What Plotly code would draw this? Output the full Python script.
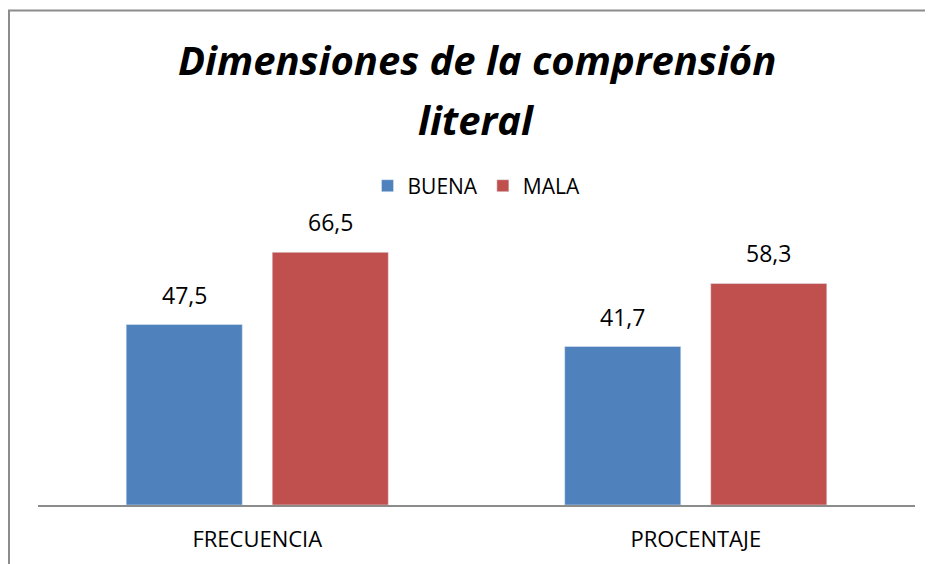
import plotly.graph_objects as go

categories = ["FRECUENCIA", "PROCENTAJE"]
buena = [47.5, 41.7]
mala = [66.5, 58.3]
series_names = ["BUENA", "MALA"]
title_lines = ["Dimensiones de la comprensión", "literal"]
colors = ["#4F81BD", "#C0504D"]

def fmt(v):
    return f"{v:.1f}".replace(".", ",")

FONT = "Open Sans"
BARGAP = 0.334
PLOT_W = 877

fig = go.Figure()
for name, vals, col in zip(series_names, [buena, mala], colors):
    fig.add_trace(go.Bar(x=categories, y=vals, name=name, marker_color=col))

fig.update_layout(
    width=925, height=556,
    margin=dict(l=30, r=18, t=231, b=59),
    paper_bgcolor="white", plot_bgcolor="white",
    barmode="group", bargap=BARGAP, bargroupgap=0.205,
    font=dict(family=FONT, color="black"),
    showlegend=True,
    legend=dict(orientation="h", x=0.5, xanchor="center", y=1.199, yanchor="middle",
                font=dict(size=21, family=FONT, color="black"), bgcolor="rgba(0,0,0,0)"),
    xaxis=dict(showline=True, linecolor="#8C8C8C", linewidth=2, ticks="",
               tickfont=dict(size=22, family=FONT, color="black"), showgrid=False,
               ticklabelstandoff=14),
    yaxis=dict(range=[0, 70], visible=False, showgrid=False),
)

# data labels above each bar
slot = PLOT_W / len(categories) * (1 - BARGAP) / len(series_names)
for i, vals in enumerate([buena, mala]):
    shift = (i - (len(series_names) - 1) / 2) * slot
    for cat, v in zip(categories, vals):
        fig.add_annotation(x=cat, y=v, text=fmt(v), showarrow=False, xshift=shift,
                           yanchor="bottom", yshift=12,
                           font=dict(size=23, family=FONT, color="black"))

fig.add_annotation(text="<b><i>" + title_lines[0] + "</i></b>", xref="paper", yref="paper",
                   x=0.5, y=1.673, xanchor="center", yanchor="middle", showarrow=False,
                   font=dict(size=40, family=FONT, color="black"))
fig.add_annotation(text="<b><i>" + title_lines[1] + "</i></b>", xref="paper", yref="paper",
                   x=0.5, y=1.451, xanchor="center", yanchor="middle", showarrow=False,
                   font=dict(size=40, family=FONT, color="black"))

# chart border (left and top edges visible)
border = dict(color="#8C8C8C", width=2)
fig.add_shape(type="line", xref="paper", yref="paper", xsizemode="pixel", ysizemode="pixel",
              xanchor=0, yanchor=0, x0=-29, x1=-29, y0=-70, y1=494.5, line=border)
fig.add_shape(type="line", xref="paper", yref="paper", xsizemode="pixel", ysizemode="pixel",
              xanchor=0, yanchor=0, x0=-30, x1=895, y0=494.5, y1=494.5, line=border)

fig.write_html("out.html", config={"displayModeBar": False},
               post_script="document.body.style.overflow='hidden';")
